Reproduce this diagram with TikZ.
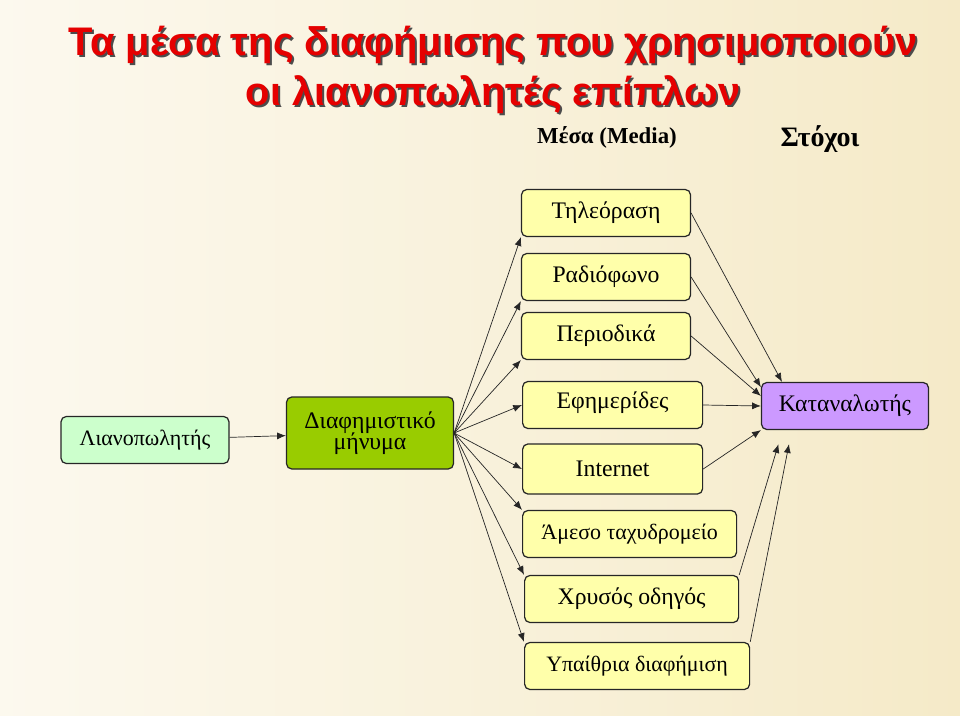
\documentclass[tikz,border=0pt]{standalone}
\usepackage{fontspec}
\setmainfont{Liberation Serif}
\newfontfamily\titlefont{Liberation Sans}
\usetikzlibrary{arrows.meta, positioning}

\definecolor{bgbeige}{RGB}{245,234,200}
\definecolor{boxyellow}{RGB}{255,255,170}
\definecolor{boxgreen}{RGB}{153,204,0}
\definecolor{boxlilac}{RGB}{204,153,255}
\definecolor{boxmint}{RGB}{204,255,204}

\tikzset{
    media/.style={draw=black!85, line width=0.7pt, rounded corners=3pt, fill=boxyellow,
        minimum height=47*0.02cm, inner sep=1pt, font=\fontsize{13.5}{15}\selectfont},
    source/.style={media, fill=boxmint, font=\fontsize{12.5}{14}\selectfont},
    message/.style={media, fill=boxgreen, minimum height=72*0.02cm, align=center},
    target/.style={media, fill=boxlilac, font=\fontsize{13.5}{15}\selectfont},
    link/.style={-{Latex[length=5pt, width=4pt]}, black!85, thin},
    titleshadow/.style={text=black!70, font=\titlefont\bfseries\fontsize{22.7}{27}\selectfont},
    titletext/.style={text=red!90!black, font=\titlefont\bfseries\fontsize{22.7}{27}\selectfont},
}

\begin{document}
\begin{tikzpicture}[x=0.02cm, y=-0.02cm]
    \shade[left color=white!70!bgbeige, right color=bgbeige] (0, 0) rectangle (960, 716);
    \useasboundingbox (0, 0) rectangle (960, 716);

    % title
    \node[titleshadow] at (495, 47) {Τα μέσα της διαφήμισης που χρησιμοποιούν};
    \node[titletext] (title1) at (493, 45) {Τα μέσα της διαφήμισης που χρησιμοποιούν};
    \node[titleshadow] at (495, 97) {οι λιανοπωλητές επίπλων};
    \node[titletext] (title2) at (493, 95) {οι λιανοπωλητές επίπλων};
    \node[font=\bfseries\fontsize{13}{15}\selectfont] (medialabel) at (607, 137) {Μέσα (Media)};
    \node[font=\bfseries\fontsize{16}{18}\selectfont] (goallabel) at (820, 139) {Στόχοι};

    % boxes
    \node[source, minimum width=168*0.02cm] (retailer) at (145, 440) {Λιανοπωλητής};
    \node[message, minimum width=167*0.02cm] (ad) at (370, 433) {Διαφημιστικό\\[-3pt]μήνυμα};
    \node[media, minimum width=169*0.02cm] (tv) at (606, 213) {Τηλεόραση};
    \node[media, minimum width=169*0.02cm] (radio) at (606, 277) {Ραδιόφωνο};
    \node[media, minimum width=169*0.02cm] (mags) at (606, 336) {Περιοδικά};
    \node[media, minimum width=180*0.02cm, anchor=west] (papers) at (522, 405)
        {\raisebox{6pt}{Εφημερίδες}};
    \node[media, minimum width=180*0.02cm, minimum height=50*0.02cm, anchor=west] (web) at (522, 469)
        {\raisebox{-4pt}{Internet}};
    \node[media, minimum width=214*0.02cm, anchor=west, font=\fontsize{12.5}{14}\selectfont]
        (mail) at (522, 534) {Άμεσο ταχυδρομείο};
    \node[media, minimum width=214*0.02cm, anchor=west] (pages) at (524, 599) {Χρυσός οδηγός};
    \node[media, minimum width=225*0.02cm, anchor=west, font=\fontsize{12.5}{14}\selectfont]
        (outdoor) at (524, 666) {Υπαίθρια διαφήμιση};
    \node[target, minimum width=167*0.02cm] (consumer) at (845, 406) {Καταναλωτής};

    % connectors
    \draw[link] (retailer) -- (ad);
    \foreach \m in {tv, radio, mags}
        \draw[link] (ad.east) -- (\m.south west);
    \draw[link] (ad.east) -- (papers.west);
    \draw[link] (ad.east) -- (web.west);
    \foreach \m in {mail, pages, outdoor}
        \draw[link] (ad.east) -- (\m.north west);
    \draw[link] (tv.east) -- ([xshift=12pt]consumer.north west);
    \draw[link] (radio.east) -- ([yshift=-3pt]consumer.north west);
    \draw[link] (mags.east) -- ([yshift=-8pt]consumer.north west);
    \draw[link] (papers.east) -- (consumer.west);
    \draw[link] (web.east) -- (consumer.south west);
    \draw[link] (pages.north east) -- ([xshift=10pt, yshift=-8pt]consumer.south west);
    \draw[link] (outdoor.north east) -- ([xshift=16pt, yshift=-8pt]consumer.south west);
\end{tikzpicture}
\end{document}
